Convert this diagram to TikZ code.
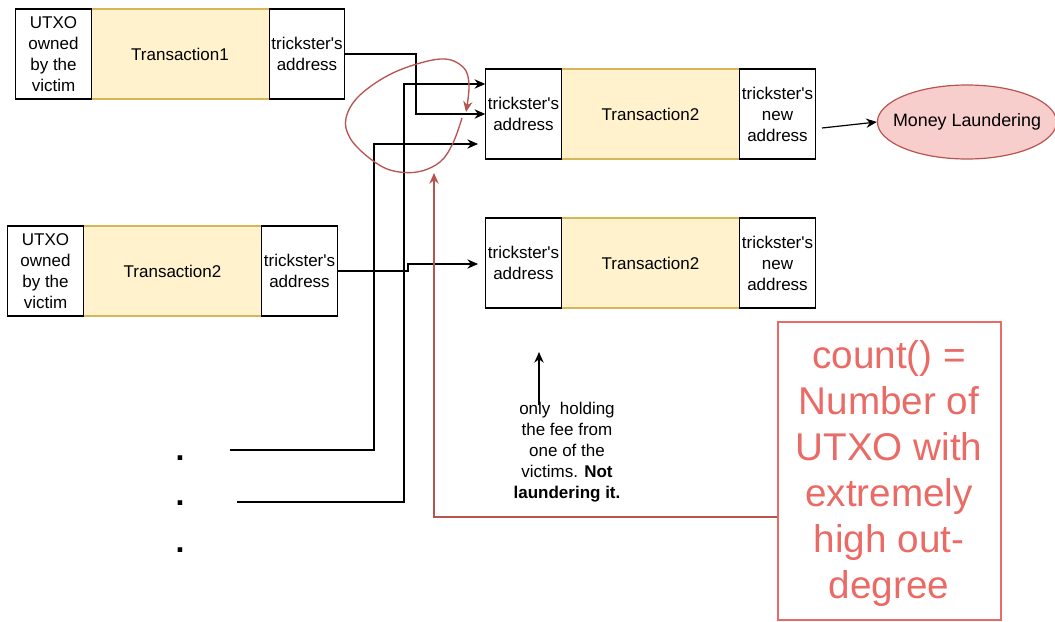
\documentclass[tikz,border=0pt]{standalone}
\usepackage{fontspec}
\setmainfont{Liberation Sans}
\usetikzlibrary{arrows.meta,shapes.geometric}
\definecolor{yfill}{HTML}{FFF2CC}
\definecolor{yline}{HTML}{D6B656}
\definecolor{rfill}{HTML}{F8CECC}
\definecolor{rline}{HTML}{B85450}
\definecolor{rtext}{HTML}{EA6B66}
\newcommand{\tq}{\textquotesingle}
\tikzset{
  base/.style={font=\fontsize{12.75}{15.75}\selectfont, align=center, inner sep=0pt},
  wbox/.style={base, draw=black, line width=0.9pt, fill=white, minimum width=56.5pt, minimum height=67.5pt},
  ybox/.style={base, draw=yline, line width=0.9pt, fill=yfill, minimum width=134pt, minimum height=67.5pt},
  conn/.style={draw=black, line width=0.9pt},
  arr/.style={conn, -{Stealth[length=8pt,width=7pt]}},
  redarr/.style={draw=rline, line width=1pt, -{Stealth[length=8pt,width=7pt]}},
  dotmark/.style={base, font=\fontsize{24}{24}\selectfont\bfseries},
}
\begin{document}
\begin{tikzpicture}[x=0.75pt,y=-0.75pt]
\useasboundingbox (0,0) rectangle (1055,621);
% top-left group
\node[ybox] (t1) at (180,54) {Transaction1};
\node[wbox] (u1) at (53.5,54) {UTXO\\owned\\by the\\victim};
\node[wbox] (a1) at (307,54) {trickster\tq s\\address};
% second left group
\node[ybox] (t2) at (172.5,271) {Transaction2};
\node[wbox] (u2) at (45.5,271) {UTXO\\owned\\by the\\victim};
\node[wbox] (a2) at (299.5,271) {trickster\tq s\\address};
% right top
\node[ybox] (tr1) at (650.5,114) {Transaction2};
\node[wbox] (b1) at (523.5,114) {trickster\tq s\\address};
\node[wbox] (n1) at (777.5,114) {trickster\tq s\\new\\address};
% right middle
\node[ybox] (tr2) at (650.5,263) {Transaction2};
\node[wbox] (b2) at (523.5,263) {trickster\tq s\\address};
\node[wbox] (n2) at (777.5,263) {trickster\tq s\\new\\address};
% money laundering
\node[base, font=\fontsize{13.4}{15.75}\selectfont, ellipse, draw=rline, line width=0.9pt, fill=rfill, inner xsep=-8pt, minimum width=129pt, minimum height=55.5pt] (ml) at (967,122) {Money Laundering};
% count box
\node[draw=rtext, line width=1.5pt, minimum width=167pt, minimum height=223.5pt, inner sep=0pt] (cb) at (889.5,471) {};
\node[align=center, text=rtext, font=\fontsize{29}{34.5}\selectfont, inner sep=0pt] (ct) at (889,473) {count() =\\Number of\\UTXO with\\extremely\\high out-\\degree};
% note
\node[base] (note) at (567,452) {only\ \ holding\\the fee from\\one of the\\victims. \textbf{Not}\\\textbf{laundering it.}};
% dots
\node[dotmark] (d1) at (180,458) {.};
\node[dotmark] (d2) at (180,503) {.};
\node[dotmark] (d3) at (180,550) {.};
% coordinates
\coordinate (c1) at (230,450);
\coordinate (c2) at (237,502);
\coordinate (e3) at (478,144);
\coordinate (e4) at (478,264);
\coordinate (ns) at (822,128);
\coordinate (nt) at (539,405);
\coordinate (nh) at (539,352);
\coordinate (rs) at (cb.west |- 0,517);
\coordinate (rh) at (434,173);
% connectors
\draw[arr] (a1.east) -| (416,114) -- (b1.west);
\draw[arr] (c2) -| (404,84) -- (b1.west |- 0,84);
\draw[arr] (c1) -| (374,144) -- (e3);
\draw[arr] (a2.east) -- (408,271) -- (408,264) -- (e4);
\draw[arr] (ns) -- (ml.west);
\draw[arr] (nt) -- (nh);
\draw[redarr] (rs) -| (rh);
\draw[redarr] plot[smooth, tension=0.6] coordinates {(462,118) (453,143) (440,162) (417,172) (390,170) (368,157) (350,138) (346,118) (360,95) (395,72) (440,59) (463,67) (469,85) (466,112)};
\end{tikzpicture}
\end{document}
